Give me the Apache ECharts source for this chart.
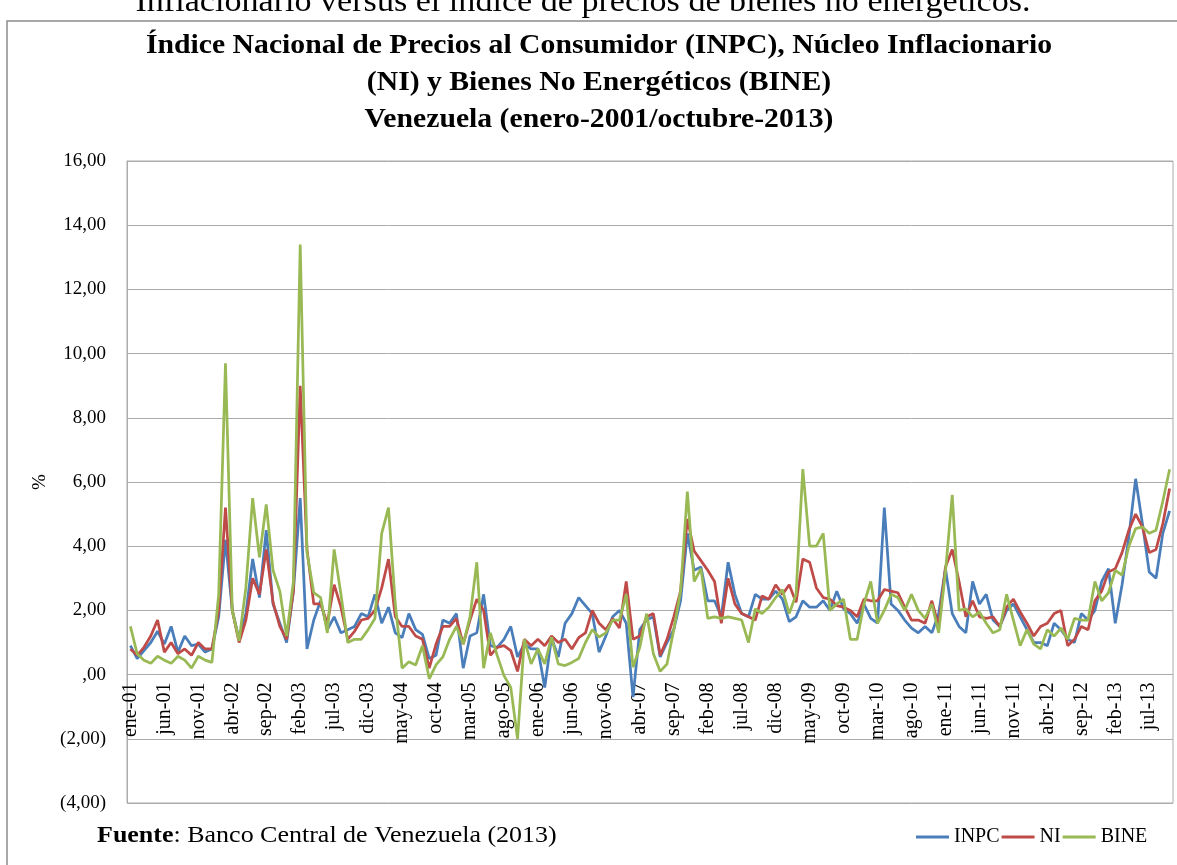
<!DOCTYPE html>
<html>
<head>
<meta charset="utf-8">
<script src="https://cdn.jsdelivr.net/npm/echarts@6/dist/echarts.min.js"></script>
<style>
  html, body { margin: 0; padding: 0; background: #fff; }
  #chart { width: 1177px; height: 865px; }
</style>
</head>
<body>
<div id="chart"></div>
<script>
// Monthly variation (%) — Venezuela, January 2001 to October 2013
const MONTHS = ['ene','feb','mar','abr','may','jun','jul','ago','sep','oct','nov','dic'];
const FIRST_YEAR = 2001;
const LAST_YEAR = 2013;
const LAST_MONTH = 10; // octubre

const categories = [];
for (let y = FIRST_YEAR; y <= LAST_YEAR; y++) {
  for (let m = 0; m < 12; m++) {
    if (y === LAST_YEAR && m >= LAST_MONTH) break;
    categories.push(MONTHS[m] + '-' + String(y).slice(2));
  }
}

const inpc = [
  0.9, 0.5, 0.75, 1.0, 1.35, 0.95, 1.5, 0.7, 1.2, 0.9, 0.95, 0.7,
  0.8, 1.8, 4.2, 2.0, 1.1, 1.9, 3.6, 2.4, 4.5, 2.2, 1.6, 1.0,
  2.6, 5.5, 0.8, 1.7, 2.3, 1.4, 1.8, 1.3, 1.4, 1.5, 1.9, 1.8,
  2.5, 1.6, 2.1, 1.3, 1.15, 1.9, 1.4, 1.25, 0.5, 0.6, 1.7, 1.6,
  1.9, 0.2, 1.2, 1.3, 2.5, 0.9, 0.85, 1.1, 1.5, 0.55, 0.95, 0.8,
  0.8, -0.4, 1.15, 0.55, 1.6, 1.9, 2.4, 2.15, 1.9, 0.7, 1.2, 1.8,
  2.0, 1.6, -0.7, 1.4, 1.7, 1.8, 0.55, 1.0, 1.4, 2.3, 4.4, 3.25,
  3.35, 2.3, 2.3, 1.8, 3.5, 2.5, 1.9, 1.8, 2.5, 2.35, 2.35, 2.6,
  2.35, 1.65, 1.8, 2.3, 2.1, 2.1, 2.3, 2.0, 2.6, 2.05, 1.9, 1.6,
  2.2, 1.75, 1.6, 5.2, 2.2, 2.0, 1.7, 1.45, 1.3, 1.5, 1.3, 1.9,
  3.3, 1.9, 1.5, 1.3, 2.9, 2.2, 2.5, 1.7, 1.5, 2.0, 2.2, 1.8,
  1.4, 1.0, 1.0, 0.9, 1.6, 1.4, 1.1, 1.0, 1.9, 1.7, 2.0, 2.9,
  3.3, 1.6, 2.8, 4.3, 6.1, 4.7, 3.2, 3.0, 4.4, 5.1
];

const ni = [
  0.8, 0.6, 0.85, 1.2, 1.7, 0.7, 1.0, 0.65, 0.8, 0.6, 1.0, 0.8,
  0.8, 2.0, 5.2, 2.0, 1.0, 1.7, 3.0, 2.5, 3.9, 2.25, 1.5, 1.1,
  2.6, 9.0, 3.9, 2.2, 2.2, 1.6, 2.8, 2.1, 1.1, 1.35, 1.7, 1.75,
  2.0, 2.7, 3.6, 1.8, 1.5, 1.5, 1.2, 1.1, 0.2, 0.95, 1.5, 1.5,
  1.75, 0.95, 1.7, 2.35, 2.0, 0.6, 0.85, 0.9, 0.75, 0.1, 1.1, 0.9,
  1.1, 0.9, 1.2, 1.0, 1.1, 0.8, 1.15, 1.3, 2.0, 1.6, 1.4, 1.75,
  1.45, 2.9, 1.1, 1.2, 1.8, 1.9, 0.6, 1.1, 1.8, 2.6, 4.85, 3.85,
  3.55, 3.25, 2.9, 1.6, 3.0, 2.2, 1.9, 1.8, 1.7, 2.45, 2.35, 2.8,
  2.5, 2.8, 2.25, 3.6, 3.5, 2.7, 2.4, 2.35, 2.15, 2.1, 2.0, 1.8,
  2.35, 2.3, 2.3, 2.65, 2.6, 2.55, 2.1, 1.7, 1.7, 1.6, 2.3, 1.5,
  3.35, 3.9, 2.9, 1.8, 2.3, 1.8, 1.75, 1.8, 1.5, 2.1, 2.35, 1.95,
  1.6, 1.2, 1.5, 1.6, 1.9, 2.0, 0.9, 1.1, 1.5, 1.4, 2.3, 2.6,
  3.2, 3.3, 3.8, 4.5, 5.0, 4.6, 3.8, 3.9, 4.7, 5.8
];

const bine = [
  1.5, 0.65, 0.45, 0.35, 0.57, 0.45, 0.35, 0.57, 0.45, 0.2, 0.57, 0.45,
  0.38, 2.5, 9.7, 2.0, 1.05, 2.7, 5.5, 3.65, 5.3, 3.25, 2.6, 1.2,
  2.9, 13.4, 3.8, 2.55, 2.4, 1.3, 3.9, 2.5, 1.0, 1.1, 1.1, 1.4,
  1.75, 4.4, 5.2, 2.2, 0.2, 0.4, 0.3, 0.9, -0.13, 0.3, 0.55, 1.1,
  1.5, 0.95, 1.8, 3.5, 0.2, 1.3, 0.6, -0.03, -0.4, -2.0, 1.1, 0.33,
  0.8, 0.33, 1.17, 0.33, 0.28, 0.38, 0.5, 1.0, 1.4, 1.17, 1.3, 1.7,
  1.7, 2.5, 0.23, 0.85, 1.9, 0.65, 0.1, 0.33, 1.4, 2.6, 5.7, 2.9,
  3.3, 1.75, 1.8, 1.75, 1.8, 1.75, 1.7, 1.0, 2.05, 1.9, 2.1, 2.4,
  2.65, 1.9, 2.5, 6.4, 4.0, 4.0, 4.4, 2.0, 2.2, 2.35, 1.1, 1.1,
  2.2, 2.9, 1.6, 2.0, 2.5, 2.4, 2.0, 2.5, 2.0, 1.75, 2.2, 1.3,
  3.2, 5.6, 2.0, 2.05, 1.8, 1.95, 1.6, 1.3, 1.4, 2.5, 1.7, 0.9,
  1.4, 0.95, 0.8, 1.4, 1.2, 1.45, 1.1, 1.75, 1.7, 1.7, 2.9, 2.3,
  2.55, 3.25, 3.1, 4.0, 4.55, 4.6, 4.4, 4.5, 5.4, 6.4
];

const Y_MIN = -4, Y_MAX = 16, Y_STEP = 2;

const SERIF = '"Liberation Serif", "DejaVu Serif", serif';
const GRID_GRAY = '#ababab';

// plot box in pixels
const PLOT = { left: 127, right: 4, top: 161, bottom: 62 };
const PLOT_H = 865 - PLOT.top - PLOT.bottom;
// the category axis sits on the zero line, so lift it from the plot bottom
const ZERO_LIFT = PLOT_H * (0 - Y_MIN) / (Y_MAX - Y_MIN);

function yLabel(v) {
  if (v === 0) return ',00';
  const s = Math.abs(v).toFixed(2).replace('.', ',');
  return v < 0 ? '(' + s + ')' : s;
}

const chart = echarts.init(document.getElementById('chart'), null, { renderer: 'canvas' });

chart.setOption({
  backgroundColor: '#ffffff',
  animation: false,
  grid: {
    left: PLOT.left, right: PLOT.right, top: PLOT.top, bottom: PLOT.bottom,
    show: true, borderColor: GRID_GRAY, borderWidth: 1, backgroundColor: 'transparent'
  },
  legend: {
    data: ['INPC', 'NI', 'BINE'],
    left: 911, top: 822,
    icon: 'rect', itemWidth: 33, itemHeight: 3, itemGap: 2,
    textStyle: { fontFamily: SERIF, fontSize: 20, color: '#000' }
  },
  xAxis: {
    type: 'category',
    data: categories,
    boundaryGap: true,
    position: 'bottom',
    offset: -ZERO_LIFT,
    axisLine: { onZero: false, lineStyle: { color: GRID_GRAY, width: 1 } },
    axisTick: { show: false },
    axisLabel: {
      interval: 4, rotate: 90, margin: 8,
      fontFamily: SERIF, fontSize: 20, color: '#000'
    },
    splitLine: { show: false }
  },
  yAxis: {
    type: 'value',
    min: Y_MIN, max: Y_MAX, interval: Y_STEP,
    name: '%', nameLocation: 'middle', nameGap: 76,
    nameTextStyle: { fontFamily: SERIF, fontSize: 19, color: '#000' },
    axisLine: { show: true, lineStyle: { color: GRID_GRAY } },
    axisTick: { show: false },
    axisLabel: { formatter: yLabel, margin: 21, fontFamily: SERIF, fontSize: 19, color: '#000' },
    splitLine: { lineStyle: { color: GRID_GRAY, width: 1 } }
  },
  series: [
    { name: 'INPC', type: 'line', data: inpc, showSymbol: false, symbol: 'none',
      itemStyle: { color: '#4A7EBB' }, lineStyle: { color: '#4A7EBB', width: 2.75 } },
    { name: 'NI', type: 'line', data: ni, showSymbol: false, symbol: 'none',
      itemStyle: { color: '#BE4B48' }, lineStyle: { color: '#BE4B48', width: 2.75 } },
    { name: 'BINE', type: 'line', data: bine, showSymbol: false, symbol: 'none',
      itemStyle: { color: '#98B954' }, lineStyle: { color: '#98B954', width: 2.75 } }
  ],
  graphic: [
    // caption line of the surrounding document, clipped at the top edge
    { type: 'text', x: 583, y: -13, scaleX: 1.1, z: 10,
      style: { text: 'Inflacionario versus el índice de precios de bienes no energéticos.',
               font: '31px ' + SERIF, fill: '#000', textAlign: 'center', textVerticalAlign: 'top' } },
    // chart frame
    { type: 'rect', shape: { x: 7, y: 21, width: 1200, height: 900 }, z: -1,
      style: { fill: 'none', stroke: '#8c8c8c', lineWidth: 1.5 } },
    // title
    { type: 'text', x: 599, y: 46, scaleX: 1.1, z: 10,
      style: { text: 'Índice Nacional de Precios al Consumidor (INPC), Núcleo Inflacionario',
               font: 'bold 27px ' + SERIF, fill: '#000', textAlign: 'center', textVerticalAlign: 'middle' } },
    { type: 'text', x: 599, y: 83, scaleX: 1.1, z: 10,
      style: { text: '(NI) y Bienes No Energéticos (BINE)',
               font: 'bold 27px ' + SERIF, fill: '#000', textAlign: 'center', textVerticalAlign: 'middle' } },
    { type: 'text', x: 599, y: 120, scaleX: 1.1, z: 10,
      style: { text: 'Venezuela (enero-2001/octubre-2013)',
               font: 'bold 27px ' + SERIF, fill: '#000', textAlign: 'center', textVerticalAlign: 'middle' } },
    // source note
    { type: 'text', x: 97, y: 836, scaleX: 1.13, z: 10,
      style: {
        text: '{b|Fuente}{r|: Banco Central de Venezuela (2013)}',
        textVerticalAlign: 'middle',
        rich: {
          b: { font: 'bold 23px ' + SERIF, fill: '#000' },
          r: { font: '23px ' + SERIF, fill: '#000' }
        }
      } }
  ]
});
</script>
</body>
</html>
